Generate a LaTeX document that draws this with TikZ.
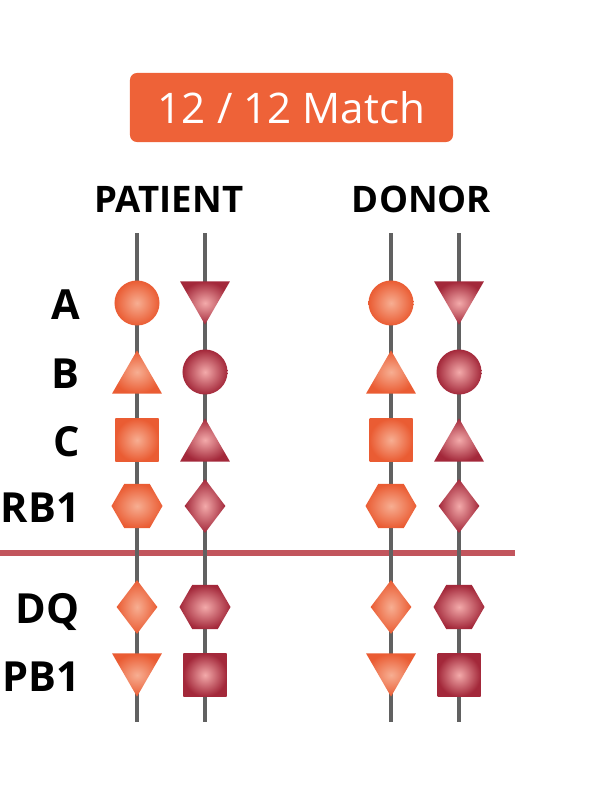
\documentclass[tikz,border=0pt]{standalone}
\usepackage{fontspec}
\setmainfont{Open Sans}
\usetikzlibrary{shapes.geometric}

\definecolor{matchorange}{HTML}{EE6238}
\definecolor{hlaorange}{HTML}{EA5C33}
\definecolor{hlaorangelt}{HTML}{F7AE92}
\definecolor{hlared}{HTML}{A3283A}
\definecolor{hlaredlt}{HTML}{F3AAAA}
\definecolor{chromgray}{HTML}{616161}
\definecolor{splitred}{HTML}{C2555D}

\begin{document}
\begin{tikzpicture}[x=0.025cm, y=-0.025cm,
    allele/.style={inner sep=0pt, draw=none},
    orng/.style={allele, inner color=hlaorangelt, outer color=hlaorange},
    crim/.style={allele, inner color=hlaredlt, outer color=hlared},
    circ/.style={circle, minimum size=1.125cm},
    triup/.style={regular polygon, regular polygon sides=3, minimum size=1.44cm, yshift=-0.18cm},
    tridown/.style={regular polygon, regular polygon sides=3, shape border rotate=180, minimum size=1.44cm, yshift=0.18cm},
    sq/.style={rectangle, minimum size=1.075cm},
    hex/.style={regular polygon, regular polygon sides=6, minimum size=1.275cm},
    dia/.style={diamond, minimum width=1.025cm, minimum height=1.35cm},
    chrom/.style={chromgray, line width=3.5pt},
    locus/.style={font=\bfseries\fontsize{29.5}{29.5}\selectfont, anchor=base east, inner sep=0pt},
    side/.style={font=\bfseries\fontsize{26}{26}\selectfont, anchor=base}]

    \useasboundingbox (0,0) rectangle (598,800);

    % title badge and column headers
    \node[fill=matchorange, rounded corners=5pt, minimum width=8.075cm, minimum height=1.725cm,
          text=white, font=\fontsize{30}{30}\selectfont] (match) at (291.5,107.5) {12 / 12 Match};
    \node[side] (patient) at (169,212) {PATIENT};
    \node[side] (donor) at (421.5,212) {DONOR};

    % class I / class II split
    \coordinate (splitL) at (0,553);
    \coordinate (splitR) at (515,553);
    \draw[splitred, line width=4.3pt] (splitL) -- (splitR);

    % chromosomes
    \coordinate (p1top) at (137,233);
    \coordinate (p1bot) at (137,722);
    \coordinate (p2top) at (205,233);
    \coordinate (p2bot) at (205,722);
    \coordinate (d1top) at (391,233);
    \coordinate (d1bot) at (391,722);
    \coordinate (d2top) at (459,233);
    \coordinate (d2bot) at (459,722);
    \draw[chrom] (p1top) -- (p1bot);
    \draw[chrom] (p2top) -- (p2bot);
    \draw[chrom] (d1top) -- (d1bot);
    \draw[chrom] (d2top) -- (d2bot);

    % loci
    \node[locus] (locA) at (80,319) {A};
    \node[locus] (locB) at (80,388) {B};
    \node[locus] (locC) at (80,456) {C};
    \node[locus] (locRB) at (80,522) {RB1};
    \node[locus] (locDQ) at (80,623) {DQ};
    \node[locus] (locPB) at (80,691) {PB1};

    % patient alleles
    \node[orng, circ] (pA1) at (137,303) {};
    \node[orng, triup] (pB1) at (137,372) {};
    \node[orng, sq] (pC1) at (137,440) {};
    \node[orng, hex] (pRB1) at (137,506) {};
    \node[orng, dia] (pDQ1) at (137,607) {};
    \node[orng, tridown] (pPB1) at (137,675) {};
    \node[crim, tridown] (pA2) at (205,303) {};
    \node[crim, circ] (pB2) at (205,372) {};
    \node[crim, triup] (pC2) at (205,440) {};
    \node[crim, dia] (pRB2) at (205,506) {};
    \node[crim, hex] (pDQ2) at (205,607) {};
    \node[crim, sq] (pPB2) at (205,675) {};

    % donor alleles
    \node[orng, circ] (dA1) at (391,303) {};
    \node[orng, triup] (dB1) at (391,372) {};
    \node[orng, sq] (dC1) at (391,440) {};
    \node[orng, hex] (dRB1) at (391,506) {};
    \node[orng, dia] (dDQ1) at (391,607) {};
    \node[orng, tridown] (dPB1) at (391,675) {};
    \node[crim, tridown] (dA2) at (459,303) {};
    \node[crim, circ] (dB2) at (459,372) {};
    \node[crim, triup] (dC2) at (459,440) {};
    \node[crim, dia] (dRB2) at (459,506) {};
    \node[crim, hex] (dDQ2) at (459,607) {};
    \node[crim, sq] (dPB2) at (459,675) {};
\end{tikzpicture}
\end{document}
